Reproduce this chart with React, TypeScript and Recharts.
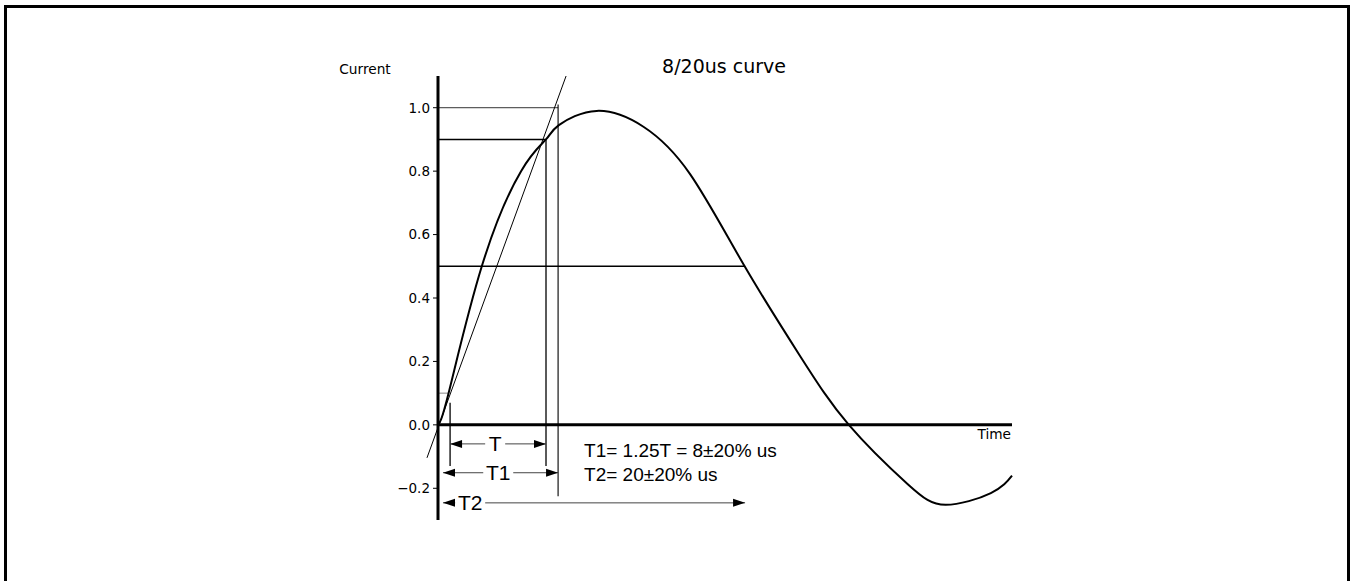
import React from 'react';
import { LineChart, Line, XAxis, YAxis, ReferenceLine, ReferenceDot } from 'recharts';

// time in us, current normalised to peak
const timeUs = [0, 0.7, 2.9, 5.5, 7.15, 8.0, 10.5, 13.6, 16.7, 20.3, 24.0, 27.2, 31.1, 33.6, 36.6, 38.0];
const current = [0, 0.1, 0.5, 0.8, 0.9, 0.945, 0.99, 0.94, 0.79, 0.5, 0.215, 0, -0.187, -0.252, -0.215, -0.16];
const yTicks = [-0.2, 0, 0.2, 0.4, 0.6, 0.8, 1.0];

// marker times (us)
const tOrigin = 0.33; // virtual origin O1
const t10 = 0.7;
const tStart = 0.8;
const t90 = 7.15;
const t100 = 7.95;
const t50 = 20.33;
const tangentStart = [-0.73, -0.104];
const tangentEnd = [8.48, 1.1];

const arrowRows = [-0.06, -0.151, -0.246];
const arrowLabels = ['T', 'T1', 'T2'];
const formulaLines = ['T1= 1.25T = 8±20% us', 'T2= 20±20% us'];

const data = timeUs.map((t, i) => ({ t, i: current[i] }));

const SANS = 'DejaVu Sans, sans-serif';
const ARIAL = 'Liberation Sans, Arial, sans-serif';

const arrowShape = (label: string, frac: number) => (props: any) => {
  const { x1, y1, x2 } = props;
  const y = y1;
  const cx = x1 + (x2 - x1) * frac;
  const w = label.length === 1 ? 20 : 30;
  return (
    <g>
      <line x1={x1} y1={y} x2={x2} y2={y} stroke="#444" strokeWidth={1} />
      <rect x={cx - w / 2} y={y - 10} width={w} height={20} fill="#fff" />
      <polygon points={`${x1},${y} ${x1 + 12},${y - 4} ${x1 + 12},${y + 4}`} fill="#000" />
      <polygon points={`${x2},${y} ${x2 - 12},${y - 4} ${x2 - 12},${y + 4}`} fill="#000" />
      <text x={cx} y={y + 7.5} textAnchor="middle" fontSize={21} fontFamily={ARIAL} fill="#000">
        {label}
      </text>
    </g>
  );
};

const textShape = (txt: string) => (props: any) => (
  <text x={props.cx} y={props.cy} fontSize={19} fontFamily={ARIAL} fill="#000">
    {txt}
  </text>
);

const fmt = (v: number) => v.toFixed(1).replace('-', '\u2212');

export default function App() {
  return (
    <div style={{ position: 'fixed', left: 0, top: 0, width: 1352, height: 581, background: '#fff', overflow: 'hidden' }}>
      <div
        style={{
          position: 'absolute', left: 4, top: 5, width: 1346, height: 600,
          border: '3px solid #000', boxSizing: 'border-box',
        }}
      />
      <div style={{ position: 'absolute', left: 0, top: 0 }}>
        <LineChart width={1352} height={581} data={data} margin={{ top: 76, right: 340, bottom: 61, left: 378 }}>
          <XAxis dataKey="t" type="number" domain={[0, 38]} hide />
          <YAxis
            type="number"
            domain={[-0.3, 1.1]}
            ticks={yTicks}
            width={60}
            tickFormatter={fmt}
            axisLine={{ stroke: '#000', strokeWidth: 3 }}
            tickLine={{ stroke: '#000' }}
            tickSize={5}
            tickMargin={3}
            tick={{ fill: '#000', fontSize: 13.5, fontFamily: SANS }}
          />
          <ReferenceLine y={0} stroke="#000" strokeWidth={3} />
          {/* level lines */}
          <ReferenceLine segment={[{ x: 0, y: 0.1 }, { x: t10, y: 0.1 }]} stroke="#888" strokeWidth={1} />
          <ReferenceLine segment={[{ x: 0, y: 0.9 }, { x: t90, y: 0.9 }]} stroke="#000" strokeWidth={1.6} />
          <ReferenceLine segment={[{ x: 0, y: 1.0 }, { x: t100, y: 1.0 }]} stroke="#000" strokeWidth={0.8} />
          <ReferenceLine segment={[{ x: 0, y: 0.5 }, { x: t50, y: 0.5 }]} stroke="#000" strokeWidth={1.6} />
          {/* verticals */}
          <ReferenceLine segment={[{ x: tStart, y: 0.07 }, { x: tStart, y: -0.13 }]} stroke="#000" strokeWidth={1.3} />
          <ReferenceLine segment={[{ x: t90, y: 0.9 }, { x: t90, y: -0.13 }]} stroke="#000" strokeWidth={1.3} />
          <ReferenceLine segment={[{ x: t100, y: 1.01 }, { x: t100, y: -0.225 }]} stroke="#000" strokeWidth={1.1} />
          <ReferenceLine segment={[{ x: t50, y: 0.5 }, { x: t50, y: -0.32 }]} stroke="#000" strokeWidth={1.3} />
          <ReferenceLine segment={[{ x: tOrigin, y: -0.02 }, { x: tOrigin, y: -0.315 }]} stroke="#777" strokeWidth={1} />
          {/* tangent through 10% and 90% */}
          <ReferenceLine
            segment={[{ x: tangentStart[0], y: tangentStart[1] }, { x: tangentEnd[0], y: tangentEnd[1] }]}
            stroke="#000"
            strokeWidth={1}
            ifOverflow="visible"
          />
          {/* dimension arrows */}
          <ReferenceLine
            segment={[{ x: tStart, y: arrowRows[0] }, { x: t90, y: arrowRows[0] }]}
            shape={arrowShape(arrowLabels[0], 0.47)}
          />
          <ReferenceLine
            segment={[{ x: tOrigin, y: arrowRows[1] }, { x: t100, y: arrowRows[1] }]}
            shape={arrowShape(arrowLabels[1], 0.48)}
          />
          <ReferenceLine
            segment={[{ x: tOrigin, y: arrowRows[2] }, { x: t50, y: arrowRows[2] }]}
            shape={arrowShape(arrowLabels[2], 0.09)}
          />
          <ReferenceDot x={9.67} y={-0.101} r={0} shape={textShape(formulaLines[0])} />
          <ReferenceDot x={9.67} y={-0.177} r={0} shape={textShape(formulaLines[1])} />
          <Line
            type="natural"
            dataKey="i"
            stroke="#000"
            strokeWidth={2}
            dot={false}
            isAnimationActive={false}
          />
        </LineChart>
      </div>
      <svg width={1352} height={581} style={{ position: 'absolute', left: 0, top: 0, pointerEvents: 'none' }}>
        <text x={724} y={73} textAnchor="middle" fontSize={19} fontFamily={SANS} fill="#000">
          8/20us curve
        </text>
        <text x={365} y={74} textAnchor="middle" fontSize={13.7} fontFamily={SANS} fill="#000">
          Current
        </text>
        <text x={1011} y={439} textAnchor="end" fontSize={13.7} fontFamily={SANS} fill="#000">
          Time
        </text>
      </svg>
    </div>
  );
}
